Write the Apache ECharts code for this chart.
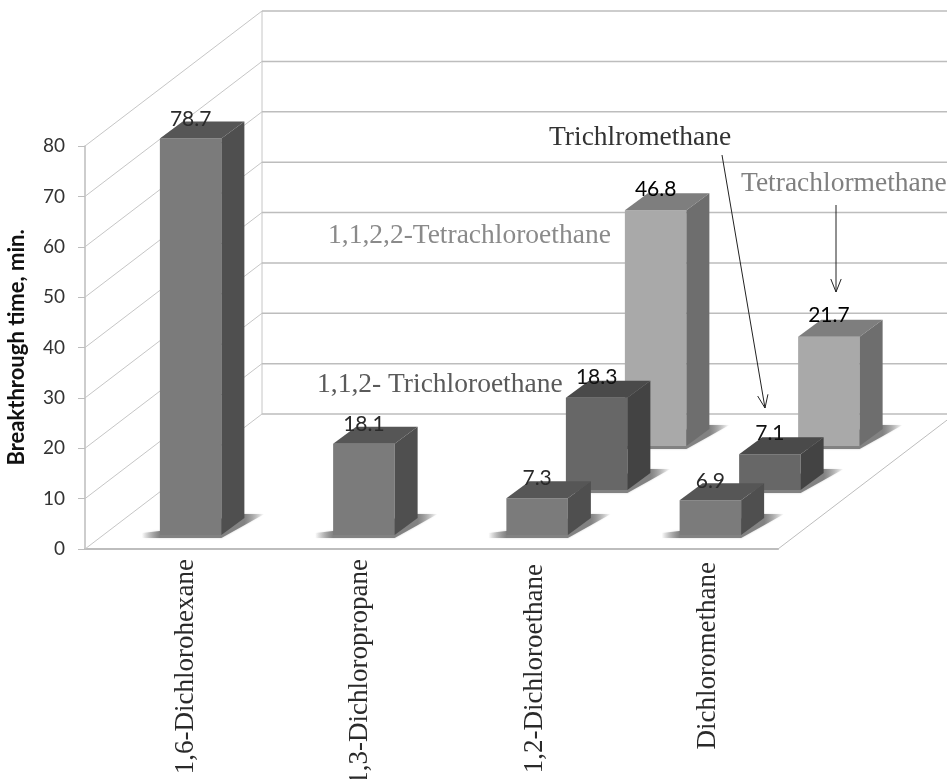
<!DOCTYPE html>
<html><head><meta charset="utf-8">
<style>html,body{margin:0;padding:0;background:#fff}#c{width:947px;height:779px}</style>
<script src="https://cdn.jsdelivr.net/npm/echarts@6/dist/echarts.min.js"></script>
</head><body><div id="c"></div>
<script>
const categories = ['1,6-Dichlorohexane','1,3-Dichloropropane','1,2-Dichloroethane','Dichloromethane'];
const yTicks = [0,10,20,30,40,50,60,70,80];
const frontValues = [78.7,18.1,7.3,6.9];
const middleValues = [null,null,18.3,7.1];
const backValues = [null,null,46.8,21.7];
const labelShift = [14,15,17,16.5];
const labelInset = [0,0,5,3];

const WALL_DX = 177, WALL_DY = -135, BAR_W = 61.5, BAR_DX = 23, BAR_DY = -17;
const rows = {
  front:  {dx:19,    dy:-14,  gap:19.5, face:'#7b7b7b', top:'#565656', side:'#4f4f4f', label:'#2a2a2a'},
  middle: {dx:78.5,  dy:-59,  gap:21, face:'#676767', top:'#4a4a4a', side:'#434343', label:'#111'},
  back:   {dx:137.5, dy:-103, gap:21, face:'#a9a9a9', top:'#7e7e7e', side:'#6e6e6e', label:'#000'}
};
const pts = vals => vals.map((v,i)=>[i,v]).filter(d=>d[1]!=null);

function barSeries(name, vals, row){
  return {
    type:'custom', name, coordinateSystem:'cartesian2d', data:pts(vals), encode:{x:0,y:1}, z:3,
    renderItem(params, api){
      const p = api.coord([api.value(0), api.value(1)]);
      const b = api.coord([api.value(0), 0]);
      const x0 = p[0]+row.dx-BAR_W/2, x1 = x0+BAR_W;
      const yt = p[1]+row.dy, yb = b[1]+row.dy;
      const poly = (points, fill) => ({type:'polygon', shape:{points}, style:{fill}, silent:true});
      const L = x0-18, R = x1+BAR_DX+20, span = R-L;
      const fade = new echarts.graphic.LinearGradient(L,0,R,0,[
        {offset:0,color:'rgba(130,130,130,0)'},
        {offset:18/span,color:'rgba(130,130,130,1)'},
        {offset:(span-20)/span,color:'rgba(130,130,130,1)'},
        {offset:1,color:'rgba(130,130,130,0)'}],true);
      const shadow = poly([[L,yb+3],[x1,yb+3],[R,yb+BAR_DY-4],[x1+BAR_DX,yb+BAR_DY-4],[x0,yb-4],[L,yb-2]], fade);
      shadow.style.shadowBlur = 2; shadow.style.shadowColor = 'rgba(150,150,150,0.5)';
      return {type:'group', children:[
        shadow,
        poly([[x0,yt],[x1,yt],[x1,yb],[x0,yb]], row.face),
        poly([[x0,yt],[x0+BAR_DX,yt+BAR_DY],[x1+BAR_DX,yt+BAR_DY],[x1,yt]], row.top),
        poly([[x1,yt],[x1+BAR_DX,yt+BAR_DY],[x1+BAR_DX,yb+BAR_DY],[x1,yb]], row.side)
      ]};
    }
  };
}
function labelSeries(vals, row){
  return {
    type:'custom', coordinateSystem:'cartesian2d', data:pts(vals), encode:{x:0,y:1}, z:5,
    renderItem(params, api){
      const p = api.coord([api.value(0), api.value(1)]);
      return {type:'text', x:p[0]+row.dx, y:p[1]+row.dy-row.gap, silent:true,
        style:{text:String(api.value(1)), fill:row.label, align:'center', verticalAlign:'middle',
               font:'21px Lato, sans-serif'}};
    }
  };
}
const wallSeries = {
  type:'custom', coordinateSystem:'cartesian2d', data:yTicks.map(t=>[0,t]), encode:{x:0,y:1}, z:1,
  renderItem(params, api){
    const cs = params.coordSys, y = api.coord([0, api.value(1)])[1];
    const x = cs.x, yBack = y+WALL_DY, xBack = x+WALL_DX;
    const kids = [
      {type:'line', shape:{x1:x,y1:y,x2:xBack,y2:yBack}, style:{stroke:'#c6c6c6',lineWidth:1}},
      {type:'line', shape:{x1:xBack,y1:yBack,x2:x+cs.width+WALL_DX,y2:yBack}, style:{stroke:'#bdbdbd',lineWidth:1.5}}
    ];
    if(api.value(1)===0){
      kids.push({type:'line', shape:{x1:xBack,y1:yBack,x2:xBack,y2:cs.y+WALL_DY}, style:{stroke:'#c6c6c6',lineWidth:1}});
      kids.push({type:'line', shape:{x1:x+cs.width,y1:y,x2:x+cs.width+WALL_DX,y2:yBack}, style:{stroke:'#bdbdbd',lineWidth:1}});
    }
    return {type:'group', silent:true, children:kids};
  }
};
const annotations = [
  {t:'1,1,2,2-Tetrachloroethane', x:328, y:236, c:'#8a8a8a'},
  {t:'1,1,2- Trichloroethane', x:317, y:385, c:'#5a5a5a'},
  {t:'Trichlromethane', x:549, y:138, c:'#333'},
  {t:'Tetrachlormethane', x:741, y:184, c:'#808080'}
];
const arrows = [
  {x1:722,y1:155,x2:765,y2:408},
  {x1:836,y1:205,x2:836,y2:292}
];
function arrowEls(a){
  const ang = Math.atan2(a.y2-a.y1,a.x2-a.x1), L=14, s=0.38;
  const h = d => [a.x2-L*Math.cos(ang+d), a.y2-L*Math.sin(ang+d)];
  return [
    {type:'line', z:10, shape:{x1:a.x1,y1:a.y1,x2:a.x2,y2:a.y2}, style:{stroke:'#222',lineWidth:1}},
    {type:'polyline', z:10, shape:{points:[h(s),[a.x2,a.y2],h(-s)]}, style:{stroke:'#222',lineWidth:1,fill:null}}
  ];
}
const rich = {};
labelShift.forEach((s,i)=>{ rich['l'+i] = {fontFamily:'"Liberation Serif",serif',fontSize:27,color:'#2a2a2a',padding:[s*2,labelInset[i],0,0]}; });

const chart = echarts.init(document.getElementById('c'), null, {renderer:'canvas'});
chart.setOption({
  animation:false,
  backgroundColor:'#fff',
  grid:{left:85,top:146,width:693,height:403,containLabel:false,outerBoundsMode:'none'},
  xAxis:{type:'category',data:categories,
    axisLine:{lineStyle:{color:'#bdbdbd',width:2}},axisTick:{show:false},
    axisLabel:{interval:0,rotate:90,margin:10,
      formatter:(v)=>`{l${categories.indexOf(v)}|${v}}`, rich}},
  yAxis:{type:'value',min:0,max:80,interval:10,
    name:'Breakthrough time, min.',nameLocation:'middle',nameGap:57,nameRotate:90,
    nameTextStyle:{fontFamily:'Lato,sans-serif',fontWeight:'bold',fontSize:22,color:'#111'},
    axisLine:{show:true,lineStyle:{color:'#bdbdbd',width:1.5}},
    axisTick:{show:true,length:7,lineStyle:{color:'#bdbdbd'}},
    splitLine:{show:false},
    axisLabel:{margin:20,fontFamily:'Lato,sans-serif',fontSize:19,color:'#333'}},
  series:[wallSeries,
    barSeries('back',backValues,rows.back),
    barSeries('middle',middleValues,rows.middle),
    barSeries('front',frontValues,rows.front),
    labelSeries(backValues,rows.back),labelSeries(middleValues,rows.middle),labelSeries(frontValues,rows.front)],
  graphic:[].concat(
    annotations.map(a=>({type:'text',z:10,x:a.x,y:a.y,style:{text:a.t,fill:a.c,font:'27.5px "Liberation Serif",serif',verticalAlign:'middle'}})),
    ...arrows.map(arrowEls))
});
</script></body></html>
